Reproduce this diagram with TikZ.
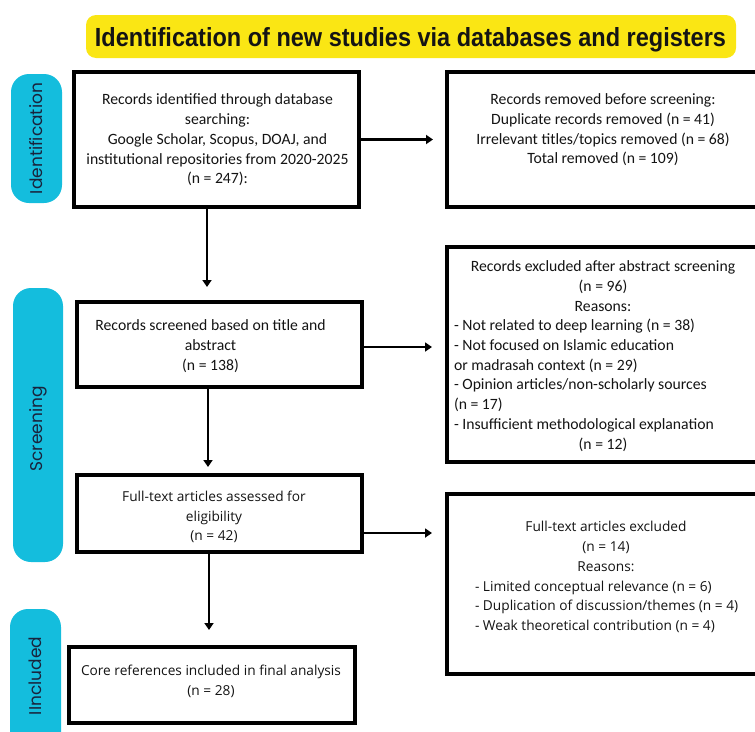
\documentclass[tikz,border=0pt]{standalone}
\usepackage{fontspec}
\usepackage{graphicx}
\usetikzlibrary{arrows.meta}
\newfontfamily\bodyc{Carlito}
\newfontfamily\bodyo{Open Sans}
\newfontfamily\pillf{Poppins}
\newfontfamily\titlef{Liberation Sans}
\definecolor{ylw}{RGB}{250,230,20}
\definecolor{cyn}{RGB}{20,189,221}
\definecolor{ink}{RGB}{20,20,20}
\definecolor{navy}{RGB}{25,35,60}
\tikzset{
  box/.style={draw=black, line width=3.5pt, inner sep=0pt, fill=white},
  pill/.style={fill=cyn, rounded corners=18pt, inner sep=0pt},
  ctext/.style={font=\bodyc\fontsize{15.7}{19.7}\selectfont, align=center, text=ink, inner sep=0pt},
  otext/.style={font=\bodyo\fontsize{13.7}{19.8}\selectfont, align=center, text=ink, inner sep=0pt},
  plabel/.style={font=\pillf\fontsize{17}{20}\selectfont, text=navy, rotate=90, inner sep=0pt},
  harrow/.style={line width=2.4pt, -{Triangle[length=7pt,width=9pt]}},
  varrow/.style={line width=2.2pt, -{Triangle[length=7pt,width=9pt]}},
}
\begin{document}
\begin{tikzpicture}[x=1pt,y=-1pt]
\useasboundingbox (0,0) rectangle (755,731);
\clip (0,0) rectangle (755,731);
% title
\node[fill=ylw, rounded corners=10pt, minimum width=650pt, minimum height=43pt, inner sep=0pt] (title) at (411,36.5) {};
\node[text=ink, inner sep=0pt, anchor=base] (titletext) at (410.5,46) {\resizebox{631pt}{19pt}{\titlef\bfseries Identification of new studies via databases and registers}};
% pills
\node[pill, minimum width=51pt, minimum height=129pt] (pid) at (36.5,138.5) {};
\node[plabel] (lid) at (36.5,138.5) {Identification};
\node[pill, minimum width=50pt, minimum height=274pt] (psc) at (38,425) {};
\node[plabel] (lsc) at (38,429) {Screening};
\node[pill, minimum width=51pt, minimum height=151pt] (pin) at (35.5,684.5) {};
\node[plabel] (lin) at (35.5,676) {IIncluded};
% boxes
\node[box, minimum width=285pt, minimum height=135pt] (b1) at (216.5,139.5) {};
\node[box, minimum width=313pt, minimum height=135pt] (b2) at (603.5,139.5) {};
\node[box, minimum width=285pt, minimum height=85pt] (b3) at (219.5,344.5) {};
\node[box, minimum width=313pt, minimum height=215pt] (b4) at (603.5,354.5) {};
\node[box, minimum width=285pt, minimum height=77pt] (ft) at (219.5,513.5) {};
\node[box, minimum width=313pt, minimum height=180pt] (b6) at (603.5,584) {};
\node[box, minimum width=286pt, minimum height=76pt] (b5) at (212,685) {};
% texts
\node[ctext] (t1) at (217.5,140) {Records identified through database\\ searching:\\ Google Scholar, Scopus, DOAJ, and\\ institutional repositories from 2020-2025\\ (n = 247):};
\node[ctext] (t2) at (603,130) {Records removed before screening:\\ Duplicate records removed (n = 41)\\ Irrelevant titles/topics removed (n = 68)\\ Total removed (n = 109)};
\node[ctext] (t3) at (210.5,346) {Records screened based on title and\\ abstract\\ (n = 138)};
\node[ctext, align=left] (t4) at (603,356) {%
\makebox[298pt][c]{Records excluded after abstract screening}\\
\makebox[298pt][c]{(n = 96)}\\
\makebox[298pt][c]{Reasons:}\\
\makebox[298pt][l]{- Not related to deep learning (n = 38)}\\
\makebox[298pt][l]{- Not focused on Islamic education}\\
\makebox[298pt][l]{or madrasah context (n = 29)}\\
\makebox[298pt][l]{- Opinion articles/non-scholarly sources}\\
\makebox[298pt][l]{(n = 17)}\\
\makebox[298pt][l]{- Insufficient methodological explanation}\\
\makebox[298pt][c]{(n = 12)}};
\node[otext] (t5) at (214,517) {Full-text articles assessed for\\ eligibility\\ (n = 42)};
\node[otext, align=left] (t7) at (606,577) {%
\makebox[262pt][c]{Full-text articles excluded}\\
\makebox[262pt][c]{(n = 14)}\\
\makebox[262pt][c]{Reasons:}\\
\makebox[262pt][l]{- Limited conceptual relevance (n = 6)}\\
\makebox[262pt][l]{- Duplication of discussion/themes (n = 4)}\\
\makebox[262pt][l]{- Weak theoretical contribution (n = 4)}};
\node[otext] (t6) at (211,681) {Core references included in final analysis\\ (n = 28)};
% connectors
\coordinate (a1) at (433,139.5);
\coordinate (a2) at (432,347);
\coordinate (a3) at (432,533);
\coordinate (v1) at (207,287);
\coordinate (v2) at (208,467);
\coordinate (v3) at (209,630);
\draw[harrow] (b1.east) -- (a1);
\draw[harrow] (b3.east |- a2) -- (a2);
\draw[harrow] (ft.east |- a3) -- (a3);
\draw[varrow] (b1.south -| v1) -- (v1);
\draw[varrow] (b3.south -| v2) -- (v2);
\draw[varrow] (ft.south -| v3) -- (v3);
\end{tikzpicture}
\end{document}
